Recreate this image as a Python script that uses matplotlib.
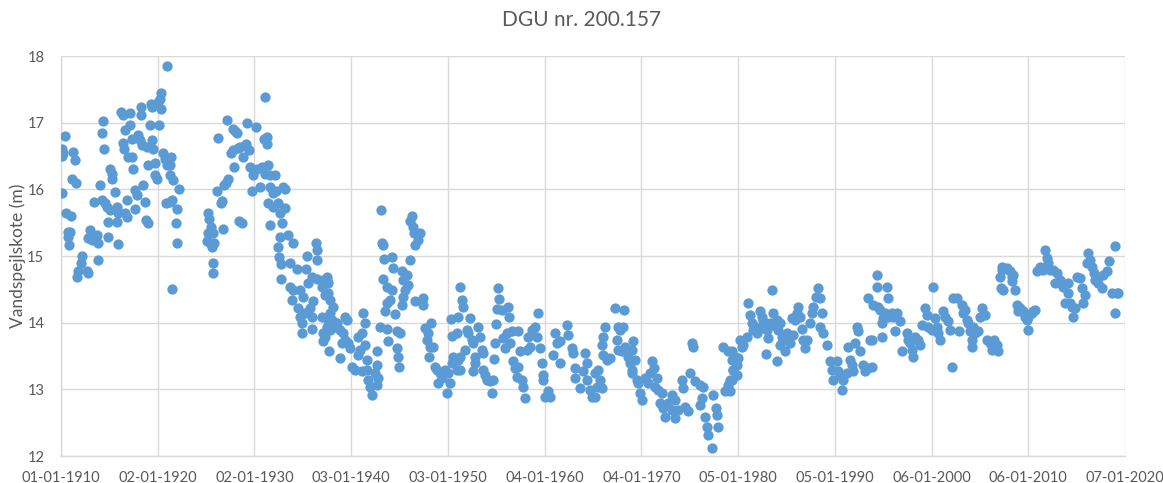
"""Water level (vandspejlskote) scatter for DGU nr. 200.157, 1910-2020."""

from datetime import datetime, timedelta

import matplotlib

matplotlib.use("Agg")
import matplotlib.dates as mdates
import matplotlib.pyplot as plt


obs_1910s = [
    (1910.07, 15.94), (1910.41, 16.80), (1910.14, 16.60), (1910.24, 16.55),
    (1910.07, 16.50), (1910.52, 15.64), (1911.03, 15.60), (1910.69, 15.36),
    (1910.93, 15.36), (1910.76, 15.29), (1910.83, 15.17), (1911.28, 16.56),
    (1911.45, 16.44), (1911.10, 16.16), (1911.52, 16.09), (1912.21, 15.00),
    (1912.07, 14.89), (1911.72, 14.77), (1911.62, 14.69), (1912.66, 14.77),
    (1912.83, 14.74), (1913.00, 15.39), (1912.83, 15.27), (1913.17, 15.24),
    (1913.69, 15.31), (1913.79, 15.19), (1913.79, 14.94), (1913.45, 15.81),
    (1914.03, 16.06), (1914.20, 15.84), (1914.55, 15.79), (1914.90, 15.29),
    (1915.93, 15.18), (1914.20, 16.85), (1914.38, 17.03), (1914.48, 16.61),
    (1915.07, 16.31), (1915.31, 16.23), (1915.24, 16.16), (1914.72, 15.74),
    (1915.07, 15.69), (1915.59, 15.96), (1915.76, 15.74), (1915.93, 15.64),
    (1914.90, 15.51), (1915.76, 15.51), (1916.21, 17.16), (1916.45, 17.11),
    (1917.14, 17.14), (1916.62, 16.89), (1917.14, 16.96), (1916.45, 16.69),
    (1916.55, 16.61), (1917.31, 16.76), (1918.00, 16.81), (1918.17, 16.74),
    (1918.41, 16.66), (1918.86, 16.64), (1919.38, 16.74), (1919.55, 16.61),
    (1916.97, 16.49), (1917.38, 16.48), (1917.48, 16.31), (1916.79, 15.84),
    (1917.66, 15.99), (1917.83, 15.91), (1917.66, 15.71), (1918.52, 16.06),
    (1918.69, 15.81), (1916.62, 15.64), (1916.79, 15.59), (1918.76, 15.54),
    (1918.97, 15.50), (1918.28, 17.23), (1918.28, 17.12), (1919.31, 17.28),
    (1919.38, 17.23), (1919.21, 16.96), (1920.14, 16.96), (1918.97, 16.36),
    (1919.72, 16.39), (1919.72, 16.21), (1919.90, 16.16), (1920.34, 17.44),
    (1920.24, 17.36), (1920.07, 17.31), (1920.34, 17.21), (1920.96, 17.85),
    (1920.59, 16.54), (1920.76, 16.46), (1921.10, 16.41), (1921.38, 16.49),
    (1920.93, 16.36), (1921.28, 16.36), (1921.28, 16.21), (1921.62, 16.14),
    (1922.21, 16.01), (1920.83, 15.79), (1921.28, 15.81), (1921.52, 15.84),
    (1921.97, 15.70), (1921.86, 15.49), (1921.97, 15.19), (1921.52, 14.51),
]

obs_1925_1937 = [
    (1925.24, 15.64), (1925.34, 15.56), (1925.48, 15.44), (1925.24, 15.34),
    (1925.69, 15.34), (1925.06, 15.22), (1925.41, 15.19), (1925.82, 15.19),
    (1925.58, 15.14), (1925.75, 14.90), (1925.69, 14.75), (1926.10, 15.97),
    (1926.51, 15.80), (1926.62, 15.82), (1926.79, 15.41), (1926.89, 16.06),
    (1927.06, 16.10), (1927.31, 16.15), (1926.27, 16.77), (1927.13, 17.04),
    (1927.55, 16.54), (1927.75, 16.59), (1927.82, 16.91), (1928.00, 16.88),
    (1928.17, 16.84), (1927.89, 16.33), (1928.44, 15.53), (1928.68, 15.49),
    (1928.34, 16.62), (1928.86, 16.49), (1929.13, 16.68), (1929.48, 16.59),
    (1928.51, 16.64), (1929.27, 17.00), (1930.17, 16.93), (1931.10, 17.38),
    (1929.55, 16.34), (1929.89, 16.21), (1930.24, 16.31), (1930.75, 16.34),
    (1931.10, 16.23), (1931.44, 16.37), (1931.62, 16.21), (1932.13, 16.21),
    (1929.72, 15.98), (1930.58, 16.03), (1931.34, 16.78), (1930.99, 16.76),
    (1931.27, 16.68), (1931.62, 16.04), (1931.96, 15.94), (1932.24, 15.97),
    (1931.44, 15.79), (1931.96, 15.74), (1932.48, 15.79), (1932.65, 15.64),
    (1933.17, 15.72), (1933.00, 16.04), (1933.17, 16.01), (1931.62, 15.47),
    (1932.82, 15.49), (1932.65, 15.29), (1933.51, 15.31), (1934.03, 15.20),
    (1932.48, 15.14), (1932.58, 14.98), (1932.72, 14.88), (1933.68, 14.90),
    (1934.37, 14.80), (1932.72, 14.65), (1936.37, 15.19), (1936.51, 15.09),
    (1936.44, 14.94), (1935.41, 15.00), (1935.34, 14.81), (1935.93, 14.69),
    (1936.44, 14.65), (1937.13, 14.64), (1937.48, 14.64), (1936.96, 14.54),
    (1935.58, 14.59), (1933.68, 14.54), (1934.03, 14.49), (1933.86, 14.34),
    (1934.72, 14.49), (1935.06, 14.39), (1936.10, 14.33), (1937.30, 14.41),
    (1934.55, 14.22), (1934.72, 14.09), (1935.24, 14.14), (1935.75, 14.22),
    (1935.93, 14.09), (1936.96, 14.09), (1934.89, 13.99), (1934.89, 13.84),
    (1935.93, 13.90), (1937.13, 13.84), (1937.30, 13.79), (1937.06, 13.72),
    (1937.75, 13.57),
]

obs_1937_1951 = [
    (1937.47, 14.69), (1937.64, 14.59), (1937.64, 14.44), (1937.82, 14.34),
    (1938.16, 14.24), (1937.82, 14.14), (1937.64, 14.04), (1937.99, 14.04),
    (1937.47, 13.94), (1937.82, 13.89), (1938.33, 13.94), (1938.51, 13.99),
    (1938.85, 13.89), (1939.20, 13.84), (1939.37, 14.09), (1939.54, 14.04),
    (1939.37, 13.74), (1939.02, 13.69), (1938.85, 13.47), (1939.71, 13.69),
    (1939.89, 13.62), (1940.06, 13.34), (1940.40, 13.29), (1940.75, 13.79),
    (1940.92, 13.59), (1941.09, 13.84), (1941.27, 14.14), (1941.44, 13.99),
    (1941.44, 13.67), (1940.75, 13.52), (1941.61, 13.44), (1941.09, 13.27),
    (1941.61, 13.29), (1941.78, 13.14), (1941.96, 13.04), (1942.13, 12.92),
    (1942.47, 13.24), (1942.64, 13.57), (1942.64, 13.37), (1942.82, 13.17),
    (1942.64, 13.07), (1943.09, 15.69), (1943.16, 15.19), (1943.33, 15.16),
    (1943.44, 14.96), (1944.20, 14.98), (1944.37, 14.82), (1943.33, 14.66),
    (1943.68, 14.54), (1944.20, 14.49), (1944.02, 14.34), (1943.68, 14.29),
    (1943.51, 14.18), (1944.54, 14.13), (1942.99, 13.93), (1943.68, 13.90),
    (1943.85, 13.72), (1944.71, 13.88), (1945.06, 13.84), (1944.71, 13.62),
    (1944.89, 13.49), (1944.96, 13.34), (1945.23, 14.77), (1945.75, 14.72),
    (1945.40, 14.64), (1945.92, 14.56), (1945.58, 14.49), (1945.40, 14.39),
    (1945.23, 14.27), (1946.09, 14.94), (1946.27, 15.60), (1946.09, 15.52),
    (1946.44, 15.44), (1946.54, 15.34), (1947.13, 15.34), (1946.96, 15.24),
    (1946.61, 15.16), (1946.61, 14.33), (1947.47, 14.37), (1947.47, 14.26),
    (1947.64, 13.92), (1948.27, 14.00), (1947.99, 13.84), (1947.82, 13.74),
    (1948.16, 13.64), (1948.06, 13.49), (1948.51, 13.64), (1948.68, 13.34),
    (1948.85, 13.29), (1949.20, 13.24), (1949.02, 13.09), (1949.37, 13.17),
    (1949.89, 12.94), (1949.71, 13.29), (1950.06, 13.24), (1950.23, 13.09),
    (1950.40, 13.39), (1950.58, 13.49), (1950.92, 13.29), (1951.09, 13.44),
    (1950.33, 14.05), (1950.40, 13.80), (1951.27, 14.54), (1951.44, 14.34),
    (1951.61, 14.24), (1951.09, 14.09), (1950.92, 13.84),
]

obs_1951_1965 = [
    (1952.29, 14.07), (1951.95, 13.89), (1952.12, 13.84), (1951.78, 13.59),
    (1951.26, 13.49), (1951.26, 13.29), (1952.47, 13.74), (1952.64, 13.69),
    (1953.16, 13.94), (1953.33, 13.79), (1952.81, 13.49), (1952.81, 13.39),
    (1952.64, 13.27), (1953.50, 13.59), (1953.67, 13.54), (1953.67, 13.29),
    (1953.85, 13.22), (1954.02, 13.14), (1954.36, 13.12), (1954.54, 12.94),
    (1954.71, 13.14), (1955.23, 14.52), (1955.33, 14.35), (1955.05, 14.20),
    (1955.57, 14.19), (1956.26, 14.24), (1956.36, 14.09), (1954.98, 13.98),
    (1954.88, 13.70), (1954.78, 13.45), (1955.74, 13.77), (1956.09, 13.84),
    (1955.92, 13.62), (1956.43, 13.69), (1956.60, 13.87), (1957.29, 13.87),
    (1956.78, 13.42), (1956.95, 13.32), (1957.29, 13.34), (1957.12, 13.19),
    (1957.64, 13.14), (1957.98, 12.87), (1957.81, 13.04), (1957.47, 13.57),
    (1958.16, 13.59), (1958.50, 13.64), (1958.33, 13.79), (1958.67, 13.89),
    (1959.02, 13.94), (1959.36, 14.14), (1959.19, 13.79), (1959.54, 13.62),
    (1959.71, 13.39), (1959.88, 13.14), (1959.81, 13.22), (1960.05, 12.89),
    (1960.57, 12.89), (1960.40, 12.97), (1961.09, 13.84), (1961.26, 13.69),
    (1960.92, 13.52), (1961.60, 13.39), (1961.60, 13.72), (1962.29, 13.97),
    (1962.47, 13.82), (1962.81, 13.62), (1962.98, 13.54), (1963.16, 13.32),
    (1963.16, 13.17), (1963.67, 13.02), (1964.19, 13.54), (1964.36, 13.39),
    (1964.02, 13.27), (1964.36, 13.14), (1964.88, 12.89), (1964.71, 12.99),
    (1965.23, 13.24), (1965.57, 13.29),
]

obs_1965_1979 = [
    (1965.74, 13.14), (1965.39, 13.04), (1965.91, 13.02), (1965.22, 12.89),
    (1966.25, 13.94), (1966.08, 13.79), (1965.91, 13.67), (1966.08, 13.52),
    (1966.43, 13.44), (1966.77, 13.47), (1967.29, 14.22), (1967.56, 13.94),
    (1968.25, 14.19), (1968.15, 13.94), (1967.81, 13.89), (1967.46, 13.74),
    (1967.63, 13.59), (1967.98, 13.57), (1968.32, 13.64), (1968.50, 13.59),
    (1968.67, 13.49), (1968.84, 13.39), (1969.01, 13.29), (1969.19, 13.72),
    (1969.01, 13.59), (1969.36, 13.44), (1969.01, 13.24), (1969.53, 13.14),
    (1969.70, 13.09), (1969.88, 12.94), (1970.05, 12.84), (1970.39, 13.17),
    (1970.74, 13.09), (1971.08, 13.42), (1971.36, 13.32), (1970.91, 13.24),
    (1971.60, 13.17), (1971.43, 13.04), (1971.77, 12.99), (1972.12, 12.94),
    (1971.94, 12.79), (1972.29, 12.72), (1972.46, 12.59), (1972.81, 12.79),
    (1973.15, 12.92), (1973.50, 12.84), (1973.15, 12.69), (1973.50, 12.57),
    (1973.84, 12.69), (1974.19, 13.14), (1974.36, 13.02), (1974.53, 12.74),
    (1974.88, 12.67), (1975.05, 13.24), (1975.22, 13.69), (1975.39, 13.63),
    (1975.56, 13.12), (1976.08, 13.07), (1976.43, 13.04), (1976.25, 12.87),
    (1976.08, 12.77), (1976.60, 12.59), (1976.77, 12.44), (1976.94, 12.32),
    (1977.29, 12.12), (1977.46, 12.92), (1977.70, 12.72), (1977.81, 12.62),
    (1977.98, 12.44), (1978.50, 13.63), (1979.01, 13.57), (1979.36, 13.44),
    (1979.53, 13.29), (1979.18, 13.14), (1979.01, 13.07), (1978.67, 12.97),
]

obs_1979_1993 = [
    (1979.18, 12.97), (1979.35, 13.14), (1979.52, 13.29), (1979.35, 13.57),
    (1979.70, 13.49), (1979.87, 13.37), (1979.87, 13.22), (1980.04, 13.47),
    (1980.21, 13.74), (1980.39, 13.64), (1980.56, 13.67), (1980.90, 13.79),
    (1981.08, 14.30), (1981.25, 14.12), (1981.42, 13.99), (1981.59, 13.89),
    (1981.77, 13.94), (1981.94, 13.84), (1982.28, 14.17), (1982.46, 14.09),
    (1982.63, 14.02), (1982.46, 13.92), (1982.80, 13.94), (1982.97, 13.89),
    (1983.15, 13.77), (1982.90, 13.53), (1983.32, 13.99), (1983.49, 14.49),
    (1983.59, 14.14), (1983.66, 13.97), (1984.01, 14.04), (1984.18, 13.89),
    (1984.35, 13.99), (1984.52, 13.79), (1984.35, 13.67), (1984.87, 13.57),
    (1984.70, 13.74), (1984.01, 13.42), (1985.04, 13.84), (1985.21, 13.74),
    (1985.39, 13.69), (1985.56, 14.07), (1985.73, 13.82), (1985.90, 14.04),
    (1986.08, 14.14), (1986.25, 14.24), (1986.42, 14.09), (1986.59, 13.90),
    (1986.77, 13.74), (1986.94, 13.62), (1987.11, 13.74), (1987.46, 13.99),
    (1987.63, 14.14), (1987.80, 14.24), (1988.08, 14.39), (1988.32, 14.52),
    (1988.49, 14.37), (1988.66, 14.14), (1988.49, 13.94), (1988.84, 13.84),
    (1989.18, 13.67), (1989.52, 13.42), (1989.70, 13.29), (1989.87, 13.14),
    (1990.21, 13.42), (1990.39, 13.27), (1990.56, 13.22), (1990.73, 12.99),
    (1990.90, 13.14), (1991.25, 13.24), (1991.42, 13.64), (1991.59, 13.44),
    (1991.77, 13.37), (1991.94, 13.27), (1992.11, 13.69), (1992.28, 13.94),
    (1992.46, 13.87), (1992.63, 13.57), (1992.97, 13.37), (1993.15, 13.27),
    (1993.49, 14.37), (1993.66, 13.74),
]

obs_1993_2007 = [
    (1993.48, 13.32), (1993.83, 13.34), (1993.83, 13.74), (1994.00, 14.27),
    (1994.35, 14.54), (1994.35, 14.72), (1994.52, 14.24), (1994.69, 14.19),
    (1994.86, 13.99), (1994.86, 13.79), (1995.04, 14.07), (1995.38, 14.54),
    (1995.55, 14.37), (1995.21, 14.14), (1995.55, 14.09), (1995.90, 14.14),
    (1996.07, 14.09), (1996.24, 13.87), (1996.42, 14.14), (1996.76, 14.02),
    (1996.93, 13.57), (1997.45, 13.84), (1997.62, 13.74), (1997.80, 13.69),
    (1997.97, 13.59), (1998.14, 13.49), (1998.31, 13.79), (1998.66, 13.74),
    (1998.83, 13.67), (1999.00, 13.97), (1999.35, 14.22), (1999.52, 14.12),
    (1999.69, 13.94), (2000.04, 13.89), (2000.21, 14.54), (2000.38, 14.07),
    (2000.55, 13.94), (2000.73, 13.84), (2000.90, 13.74), (2001.24, 14.17),
    (2001.42, 14.09), (2001.76, 14.02), (2001.93, 13.89), (2002.11, 13.34),
    (2002.28, 14.37), (2002.62, 14.37), (2002.80, 13.87), (2003.14, 14.27),
    (2003.31, 14.14), (2003.48, 14.19), (2003.66, 14.04), (2003.83, 13.99),
    (2004.00, 13.87), (2004.17, 13.74), (2004.17, 13.64), (2004.35, 13.94),
    (2004.52, 13.84), (2004.86, 13.87), (2005.04, 14.09), (2005.21, 14.22),
    (2005.55, 14.12), (2005.73, 13.74), (2006.07, 13.69), (2006.24, 13.59),
    (2006.42, 13.74), (2006.76, 13.67), (2006.93, 13.57), (2007.11, 14.69),
    (2007.28, 14.84), (2007.21, 14.52),
]

obs_2007_2019 = [
    (2007.27, 14.79), (2007.79, 14.82), (2008.13, 14.77), (2008.31, 14.69),
    (2008.48, 14.72), (2008.31, 14.62), (2007.44, 14.49), (2008.65, 14.49),
    (2008.82, 14.27), (2009.00, 14.17), (2009.17, 14.22), (2009.51, 14.17),
    (2009.69, 14.09), (2009.86, 14.04), (2010.03, 14.09), (2010.38, 14.14),
    (2010.55, 14.17), (2010.72, 14.19), (2010.03, 13.89), (2010.89, 14.77),
    (2011.24, 14.84), (2011.58, 14.79), (2011.76, 15.09), (2011.93, 14.97),
    (2012.10, 14.89), (2012.27, 14.79), (2012.62, 14.79), (2012.79, 14.59),
    (2012.96, 14.74), (2013.31, 14.64), (2013.65, 14.54), (2013.82, 14.29),
    (2014.17, 14.59), (2014.17, 14.44), (2014.34, 14.29), (2014.51, 14.24),
    (2014.69, 14.09), (2014.86, 14.22), (2015.03, 14.69), (2015.38, 14.67),
    (2015.55, 14.52), (2015.72, 14.29), (2015.89, 14.42), (2016.07, 14.89),
    (2016.24, 15.04), (2016.41, 14.94), (2016.58, 14.84), (2016.76, 14.74),
    (2016.93, 14.64), (2017.10, 14.69), (2017.27, 14.59), (2017.62, 14.52),
    (2017.79, 14.72), (2018.13, 14.77), (2018.31, 14.92), (2018.65, 14.44),
    (2019.00, 15.15), (2019.17, 14.44), (2019.34, 14.44), (2019.00, 14.14),
]

SEGMENTS = [obs_1910s, obs_1925_1937, obs_1937_1951, obs_1951_1965,
            obs_1965_1979, obs_1979_1993, obs_1993_2007, obs_2007_2019]

Y_TICKS = [12, 13, 14, 15, 16, 17, 18]

BLUE = "#5B9BD5"
GRID = "#D9D9D9"
TEXT = "#595959"


def to_date(year: float) -> datetime:
    whole = int(year)
    return datetime(whole, 1, 1) + timedelta(days=(year - whole) * 365.25)


def main() -> None:
    plt.rcParams["font.family"] = ["Lato", "DejaVu Sans"]

    points = [p for seg in SEGMENTS for p in seg]
    dates = [to_date(y) for y, _ in points]
    levels = [v for _, v in points]

    fig = plt.figure(figsize=(11.63, 4.83), dpi=100)
    ax = fig.add_axes([61 / 1163, 1 - 456 / 483, (1125 - 61) / 1163, 400 / 483])

    ax.plot(dates, levels, linestyle="none", marker="o", markersize=7.4,
            markerfacecolor=BLUE, markeredgewidth=0, zorder=3)

    # Excel date axis: major unit 3653 days starting 01-01-1910
    start = datetime(1910, 1, 1)
    xticks = [start + timedelta(days=3653 * k) for k in range(12)]
    ax.set_xticks(xticks)
    ax.xaxis.set_major_formatter(mdates.DateFormatter("%d-%m-%Y"))
    ax.set_xlim(xticks[0], xticks[-1])

    ax.set_ylim(12, 18)
    ax.set_yticks(Y_TICKS)

    ax.grid(True, color=GRID, linewidth=1.0, zorder=0)
    ax.set_axisbelow(True)
    for side in ("top", "right"):
        ax.spines[side].set_visible(False)
    for side in ("left", "bottom"):
        ax.spines[side].set_color(GRID)
        ax.spines[side].set_linewidth(1.0)

    ax.tick_params(length=0, labelsize=10.5, colors=TEXT)
    ax.tick_params(axis="x", pad=11)
    ax.tick_params(axis="y", pad=12)
    ax.set_ylabel("Vandspejlskote (m)", fontsize=12.5, color=TEXT)
    ax.yaxis.set_label_coords(-35 / 1064, 0.5)

    fig.text(0.5, 1 - 20 / 483, "DGU nr. 200.157", ha="center", va="center",
             fontsize=15, color=TEXT)

    fig.savefig("out.png", dpi=100)


if __name__ == "__main__":
    main()
